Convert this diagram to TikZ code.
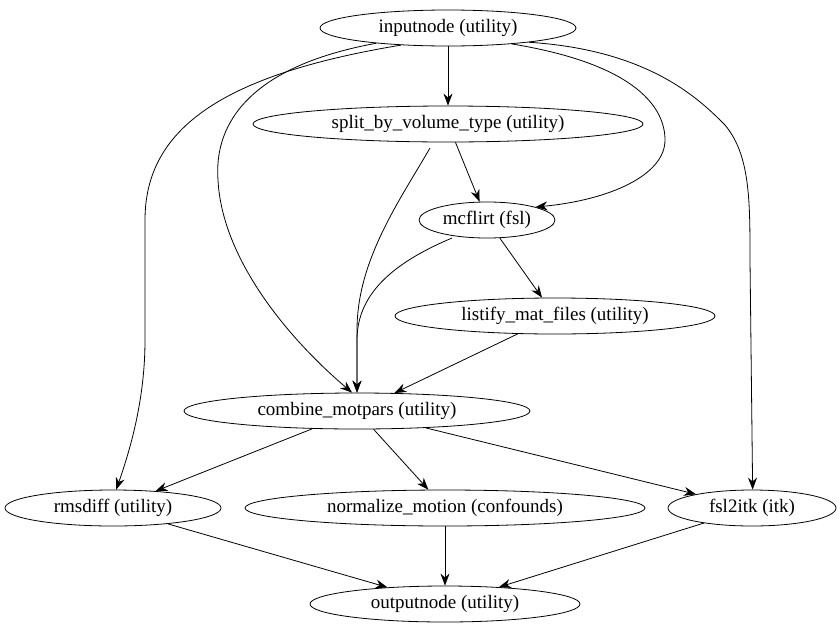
\documentclass[tikz,border=0pt]{standalone}
\usepackage{fontspec}
\setmainfont{Liberation Serif}
\usetikzlibrary{arrows.meta,shapes.geometric}
\begin{document}
\begin{tikzpicture}[x=1pt,y=-1pt,
 n/.style={ellipse,draw,line width=0.8pt,inner sep=0pt,minimum height=36pt,font=\fontsize{19}{21}\selectfont},
 e/.style={draw,line width=0.8pt,-{Stealth[length=12pt,width=9pt]}}]
\useasboundingbox (0,0) rectangle (840,635);
\node[n,minimum width=256pt] (in) at (448,28) {inputnode (utility)};
\node[n,minimum width=390pt] (sp) at (448,124) {split\_by\_volume\_type (utility)};
\node[n,minimum width=136pt] (mc) at (487,220) {mcflirt (fsl)};
\node[n,minimum width=320pt] (li) at (555,316) {listify\_mat\_files (utility)};
\node[n,minimum width=346pt] (co) at (357,411) {combine\_motpars (utility)};
\node[n,minimum width=216pt] (rm) at (113,508) {rmsdiff (utility)};
\node[n,minimum width=400pt] (no) at (445,508) {normalize\_motion (confounds)};
\node[n,minimum width=168pt] (fs) at (752,508) {fsl2itk (itk)};
\node[n,minimum width=270pt] (ou) at (445,604) {outputnode (utility)};
\draw[e] (in) -- (sp);
\draw[e] (in.200) .. controls (220,75) and (145,130) .. (145,220) -- (145,340) .. controls (145,400) and (130,450) .. (rm.80);
\draw[e] (in.192) .. controls (230,70) and (215,140) .. (218,180) .. controls (222,260) and (290,340) .. (co.105);
\draw[e] (in.-14) .. controls (640,65) and (665,110) .. (665,140) .. controls (665,175) and (610,200) .. (mc.15);
\draw[e] (in.-10) .. controls (650,50) and (700,100) .. (725,125) .. controls (750,155) and (750,200) .. (750,260) -- (fs.88);
\draw[e] (sp) -- (mc);
\draw[e] (430,148) .. controls (400,200) and (357,260) .. (357,330) -- (co.90);
\draw[e] (452,238) .. controls (400,260) and (357,290) .. (357,340) -- (co.90);
\draw[e] (mc) -- (li);
\draw[e] (li) -- (co);
\draw[e] (co) -- (rm);
\draw[e] (co) -- (no);
\draw[e] (co) -- (fs);
\draw[e] (rm) -- (ou);
\draw[e] (no) -- (ou);
\draw[e] (fs) -- (ou);
\end{tikzpicture}
\end{document}
